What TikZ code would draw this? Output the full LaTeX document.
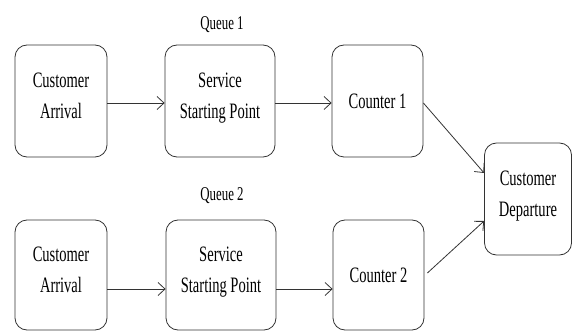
\documentclass[tikz,border=0pt]{standalone}
\usepackage{fontspec}
\setmainfont{Liberation Serif}[FakeStretch=0.66]
\usetikzlibrary{arrows.meta}
\newcommand\lowstrut{\rule[-10pt]{0pt}{0pt}}
\begin{document}
\begin{tikzpicture}[x=1pt,y=1pt,
  box/.style={draw=black!80, line width=0.8pt, rounded corners=12pt, inner sep=0pt,
    align=center, font=\fontsize{22}{31}\selectfont, text=black},
  qlabel/.style={font=\fontsize{19.5}{24}\selectfont, text=black},
  conn/.style={draw=black!80, line width=0.8pt, -{Straight Barb[length=7pt,width=13pt,line width=0.8pt]}}]
\useasboundingbox (0,0) rectangle (572,332);
% top row
\node[box, minimum width=92pt, minimum height=112pt] (A1) at (61,231) {Customer\\Arrival\lowstrut};
\node[box, minimum width=110pt, minimum height=112pt] (S1) at (220,231) {Service\\Starting Point\lowstrut};
\node[box, minimum width=91pt, minimum height=112pt] (C1) at (377.5,231) {Counter 1};
\node[qlabel] (Q1) at (222,307) {Queue 1};
% bottom row
\node[box, minimum width=92pt, minimum height=110pt] (A2) at (61,57) {Customer\\Arrival\lowstrut};
\node[box, minimum width=110pt, minimum height=110pt] (S2) at (221,57) {Service\\Starting Point\lowstrut};
\node[box, minimum width=91pt, minimum height=110pt] (C2) at (378.5,57) {Counter 2};
\node[qlabel] (Q2) at (222,136) {Queue 2};
% departure
\node[box, minimum width=87pt, minimum height=112pt] (D) at (528,133) {Customer\\Departure\lowstrut};
% connectors
\draw[conn] ([yshift=-2pt]A1.east) -- ([yshift=-2pt]S1.west);
\draw[conn] ([yshift=-2pt]S1.east) -- ([yshift=-2pt]C1.west);
\draw[conn] ([yshift=-14pt]A2.east) -- ([yshift=-14pt]S2.west);
\draw[conn] ([yshift=-14pt]S2.east) -- ([yshift=-14pt]C2.west);
\draw[conn] ([yshift=-2pt]C1.east) -- ([yshift=26pt]D.west);
\draw[conn] ([yshift=2pt,xshift=3pt]C2.east) -- ([yshift=-22pt]D.west);
\end{tikzpicture}
\end{document}
